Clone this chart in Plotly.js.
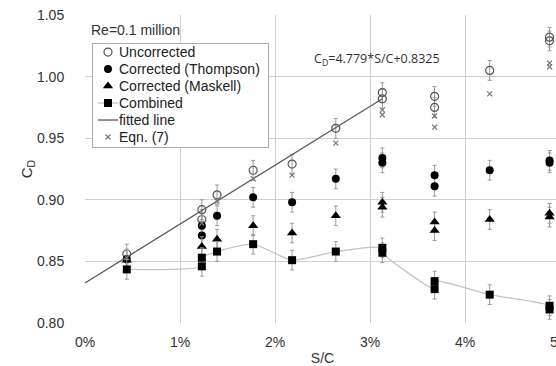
<!DOCTYPE html>
<html>
<head>
<meta charset="utf-8">
<script src="https://cdn.plot.ly/plotly-3.0.1.min.js"></script>
<style>
html,body{margin:0;padding:0;overflow:hidden;background:#fff;}
#chart{width:580px;height:366px;}
</style>
</head>
<body>
<div id="chart"></div>
<script>
// S/C positions (fraction) and C_D values
var uncorrX = [0.0044,0.0123,0.0123,0.0139,0.0177,0.0218,0.0264,0.0313,0.0313,0.0368,0.0368,0.0426,0.0489,0.0489];
var uncorrY = [0.856,0.892,0.884,0.904,0.924,0.929,0.958,0.987,0.982,0.984,0.975,1.005,1.032,1.029];

var thompX = [0.0044,0.0123,0.0123,0.0139,0.0177,0.0218,0.0264,0.0313,0.0313,0.0368,0.0368,0.0426,0.0489,0.0489];
var thompY = [0.852,0.879,0.871,0.887,0.902,0.898,0.917,0.934,0.930,0.920,0.911,0.924,0.932,0.930];

var maskX = [0.0044,0.0123,0.0139,0.0177,0.0218,0.0264,0.0313,0.0313,0.0368,0.0368,0.0426,0.0489,0.0489];
var maskY = [0.851,0.862,0.868,0.879,0.873,0.887,0.898,0.894,0.882,0.875,0.884,0.889,0.886];

var combX = [0.0044,0.0123,0.0123,0.0139,0.0177,0.0218,0.0264,0.0313,0.0313,0.0368,0.0368,0.0426,0.0489,0.0489];
var combY = [0.8435,0.846,0.853,0.858,0.864,0.851,0.858,0.861,0.857,0.8275,0.834,0.823,0.814,0.811];

var fitX = [0, 0.0313];
var fitY = [0.8325, 0.982];

var eqnX = [0.0044,0.0123,0.0139,0.0177,0.0218,0.0264,0.0313,0.0313,0.0368,0.0368,0.0426,0.0489,0.0489];
var eqnY = [0.853,0.881,0.899,0.917,0.920,0.946,0.973,0.969,0.968,0.959,0.986,1.011,1.008];

var errBar = 0.008;

var xTickVals = [0,0.01,0.02,0.03,0.04,0.05];
var xTickText = ['0%','1%','2%','3%','4%','5%'];
var yTickVals = [0.80,0.85,0.90,0.95,1.00,1.05];
var yTickText = ['0.80','0.85','0.90','0.95','1.00','1.05'];

var FONT = 'Liberation Sans, Arial, sans-serif';
function eb(){ return {type:'constant', value:errBar, visible:true, color:'#9a9a9a', thickness:1, width:2}; }

var traces = [
  {name:'Uncorrected', x:uncorrX, y:uncorrY, mode:'markers', type:'scatter',
   marker:{symbol:'circle-open', size:8, color:'#555', line:{width:1.2, color:'#555'}}, error_y:eb()},
  {name:'Corrected (Thompson)', x:thompX, y:thompY, mode:'markers', type:'scatter',
   marker:{symbol:'circle', size:8, color:'#000'}, error_y:eb()},
  {name:'Corrected (Maskell)', x:maskX, y:maskY, mode:'markers', type:'scatter',
   marker:{symbol:'triangle-up', size:9, color:'#000'}, error_y:eb()},
  {name:'Combined', x:combX, y:combY, mode:'lines+markers', type:'scatter',
   line:{color:'#c4c4c4', width:1.3, shape:'spline', smoothing:0.6},
   marker:{symbol:'square', size:8, color:'#000'}, error_y:eb()},
  {name:'fitted line', x:fitX, y:fitY, mode:'lines', type:'scatter',
   line:{color:'#5a5a5a', width:1.3}},
  {name:'Eqn. (7)', x:eqnX, y:eqnY, mode:'markers', type:'scatter',
   marker:{symbol:'x-thin-open', size:5, color:'#777', line:{width:1.2, color:'#777'}}}
];

var layout = {
  width:580, height:366,
  margin:{l:85, r:20, t:15, b:43},
  paper_bgcolor:'#fff', plot_bgcolor:'#fff',
  font:{family:FONT, size:14, color:'#333'},
  showlegend:true,
  legend:{x:0.0147, y:0.909, xanchor:'left', yanchor:'top',
    bgcolor:'#fff', bordercolor:'#aaa', borderwidth:1,
    font:{family:FONT, size:14, color:'#222'}, tracegroupgap:0},
  xaxis:{range:[0,0.05], tickvals:xTickVals, ticktext:xTickText,
    showgrid:true, gridcolor:'#cfcfcf', gridwidth:1, zeroline:false, showline:false,
    ticks:'outside', ticklen:6, tickcolor:'rgba(0,0,0,0)',
    tickfont:{family:FONT, size:14, color:'#333'},
    title:{text:'S/C', font:{family:FONT, size:14, color:'#333'}, standoff:4}},
  yaxis:{range:[0.80,1.05], tickvals:yTickVals, ticktext:yTickText,
    showgrid:true, gridcolor:'#cfcfcf', gridwidth:1, zeroline:false, showline:false,
    ticks:'outside', ticklen:17, tickcolor:'rgba(0,0,0,0)',
    tickfont:{family:FONT, size:14, color:'#333'},
    title:{text:'C<sub>D</sub>', font:{family:FONT, size:15, color:'#333'}, standoff:0}},
  annotations:[
    {text:'Re=0.1 million', xref:'paper', yref:'paper', x:0.008, y:0.95, xanchor:'left', yanchor:'middle',
     showarrow:false, font:{family:FONT, size:14, color:'#333'}},
    {text:'C<sub>D</sub>=4.779*S/C+0.8325', xref:'x', yref:'y', x:0.0307, y:1.0135, xanchor:'center', yanchor:'middle',
     showarrow:false, font:{family:'Open Sans, sans-serif', size:12.5, color:'#333'}}
  ]
};

Plotly.newPlot('chart', traces, layout, {displayModeBar:false, staticPlot:true}).then(function(gd){
  // compact the legend to match the reference spacing
  var lg = gd.querySelector('g.legend');
  if(!lg) return;
  var items = lg.querySelectorAll('g.traces');
  var maxW = 0;
  items.forEach(function(g, i){
    g.setAttribute('transform', 'translate(-4,' + (9 + 17*i) + ')');
    var t = g.querySelector('text.legendtext');
    if(t){ t.setAttribute('x', 31); maxW = Math.max(maxW, t.getComputedTextLength()); }
    g.querySelectorAll('.legendlines path').forEach(function(p){ p.setAttribute('d', 'M10,0h20'); });
  });
  var bg = lg.querySelector('rect.bg');
  if(bg){ bg.setAttribute('width', 31 + maxW + 4); bg.setAttribute('height', 104); }
});
</script>
</body>
</html>
